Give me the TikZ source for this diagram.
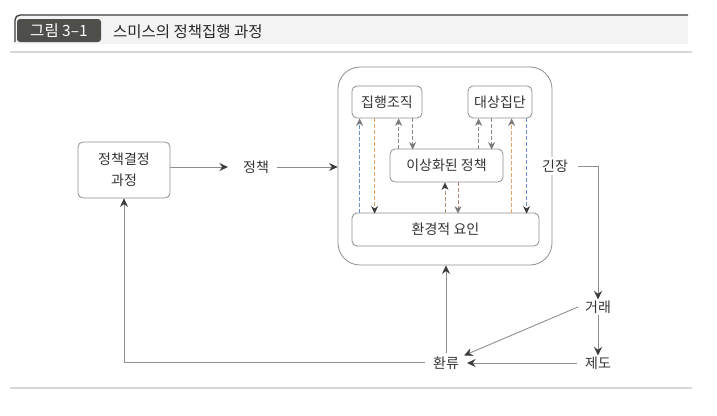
\documentclass[tikz,border=0pt]{standalone}
\usepackage{fontspec}
\setmainfont{Noto Sans CJK KR}
\usetikzlibrary{arrows.meta,calc}
\definecolor{txt}{HTML}{333333}
\definecolor{ln}{HTML}{8E8E8E}
\definecolor{hd}{HTML}{3A3A3A}
\definecolor{lbl}{HTML}{4E4E4B}
\definecolor{hdbg}{HTML}{F3F3F3}
\definecolor{rule}{HTML}{D6D6D6}
\definecolor{dblue}{HTML}{6B8FCB}
\definecolor{dorange}{HTML}{E2A565}
\definecolor{dred}{HTML}{B98272}
\definecolor{dgray}{HTML}{8A8A8A}
\definecolor{tipd}{HTML}{3C3C3C}
\definecolor{tipg}{HTML}{7A7A7A}
\tikzset{
  boxnode/.style={draw=ln, line width=0.8pt, rounded corners=5pt, fill=white, text=txt, inner sep=0pt},
  lab/.style={text=txt, inner sep=3pt},
  con/.style={draw=ln, line width=0.9pt, -{Stealth[length=8.5pt,width=8pt,inset=2.8pt,color=tipd]}},
  dsh/.style 2 args={draw=#1, line width=0.75pt, dash pattern=on 3.5pt off 2.5pt,
      -{Stealth[length=7.5pt,width=7pt,inset=2.4pt,color=#2]}},
}
\begin{document}
\begin{tikzpicture}[x=1pt,y=-1pt,font=\fontsize{14}{17}\selectfont]
\useasboundingbox (0,0) rectangle (717,415);

% header
\fill[hdbg] (15,15) rectangle (688,44);
\draw[hd, line width=1.3pt, rounded corners=5pt] (15,42) -- (15,15) -- (688,15);
\draw[rule, line width=1.5pt] (10,52) -- (692,52);
\node[fill=lbl, rounded corners=3pt, minimum width=84pt, minimum height=23pt,
      text=white, inner sep=0pt, font=\fontsize{15.5}{18}\selectfont] (fig) at (59,30.5) {그림 3–1};
\node[anchor=west, text=black!85, inner sep=0pt, font=\fontsize{15.5}{18}\selectfont] (title) at (113,32) {스미스의 정책집행 과정};
\draw[rule, line width=1.5pt] (10,388) -- (692,388);

% big container
\node[draw=ln, line width=0.8pt, rounded corners=22pt, minimum width=214pt,
      minimum height=198pt, inner sep=0pt] (big) at (445,166) {};

% inner boxes
\node[boxnode, minimum width=70pt, minimum height=32pt] (org) at (387,102) {집행조직};
\node[boxnode, minimum width=64pt, minimum height=32pt] (tgt) at (500,102) {대상집단};
\node[boxnode, minimum width=113pt, minimum height=33pt] (ideal) at (446.5,165.5) {이상화된 정책};
\node[boxnode, minimum width=187pt, minimum height=33pt] (env) at (445.5,229.5) {환경적 요인};

% left box and labels
\node[boxnode, minimum width=92pt, minimum height=56pt, align=center,
      font=\fontsize{14}{21}\selectfont] (dec) at (124,170) {정책결정\\과정};
\node[lab] (pol) at (256,167) {정책};
\node[lab, fill=white] (ten) at (555,166) {긴장};
\node[lab] (trade) at (598,307) {거래};
\node[lab] (inst) at (598,363) {제도};
\node[lab] (fb) at (446,363) {환류};

% solid connectors
\draw[con] (dec.east |- pol) -- ([xshift=-12pt]pol.west);
\draw[con] ([xshift=5pt]pol.east) -- (big.west |- pol);
\draw[con] ([xshift=7pt]ten.east) -| ([yshift=-2pt]trade.north);
\draw[con] ([yshift=2pt]trade.south) -- ([yshift=-2pt]inst.north);
\draw[con] ([xshift=-4pt]trade.west) -- ([xshift=2pt,yshift=-2pt]fb.north east);
\draw[con] ([xshift=-5pt]inst.west) -- ([xshift=5pt]fb.east);
\draw[con] (fb.north) -- (fb.north |- big.south);
\draw[con] ([xshift=-5pt,yshift=1pt]fb.west) -| (dec.south);

% dashed links: 집행조직 <-> 환경적 요인
\draw[dsh={dblue}{tipg}] ([xshift=8pt]org.south west |- env.north) -- ([xshift=8pt]org.south west);
\draw[dsh={dorange}{tipd}] ([xshift=23pt]org.south west) -- ([xshift=23pt,yshift=-1pt]org.south west |- env.north);
% 집행조직 <-> 이상화된 정책
\draw[dsh={dgray}{tipg}] ([xshift=47pt]org.south west |- ideal.north) -- ([xshift=47pt]org.south west);
\draw[dsh={dgray}{tipg}] ([xshift=61pt]org.south west) -- ([xshift=61pt,yshift=-1pt]org.south west |- ideal.north);
% 대상집단 <-> 이상화된 정책
\draw[dsh={dgray}{tipg}] ([xshift=11pt]tgt.south west |- ideal.north) -- ([xshift=11pt]tgt.south west);
\draw[dsh={dgray}{tipg}] ([xshift=24pt]tgt.south west) -- ([xshift=24pt,yshift=-1pt]tgt.south west |- ideal.north);
% 대상집단 <-> 환경적 요인
\draw[dsh={dorange}{tipg}] ([xshift=44pt]tgt.south west |- env.north) -- ([xshift=44pt]tgt.south west);
\draw[dsh={dblue}{tipd}] ([xshift=59pt]tgt.south west) -- ([xshift=59pt,yshift=-1pt]tgt.south west |- env.north);
% 이상화된 정책 <-> 환경적 요인
\draw[dsh={dorange!70!black!80}{tipd}] ([xshift=-1.5pt]ideal.south |- env.north) -- ([xshift=-1.5pt]ideal.south);
\draw[dsh={dred}{tipg}] ([xshift=11.5pt]ideal.south) -- ([xshift=11.5pt,yshift=-1pt]ideal.south |- env.north);
\end{tikzpicture}
\end{document}
